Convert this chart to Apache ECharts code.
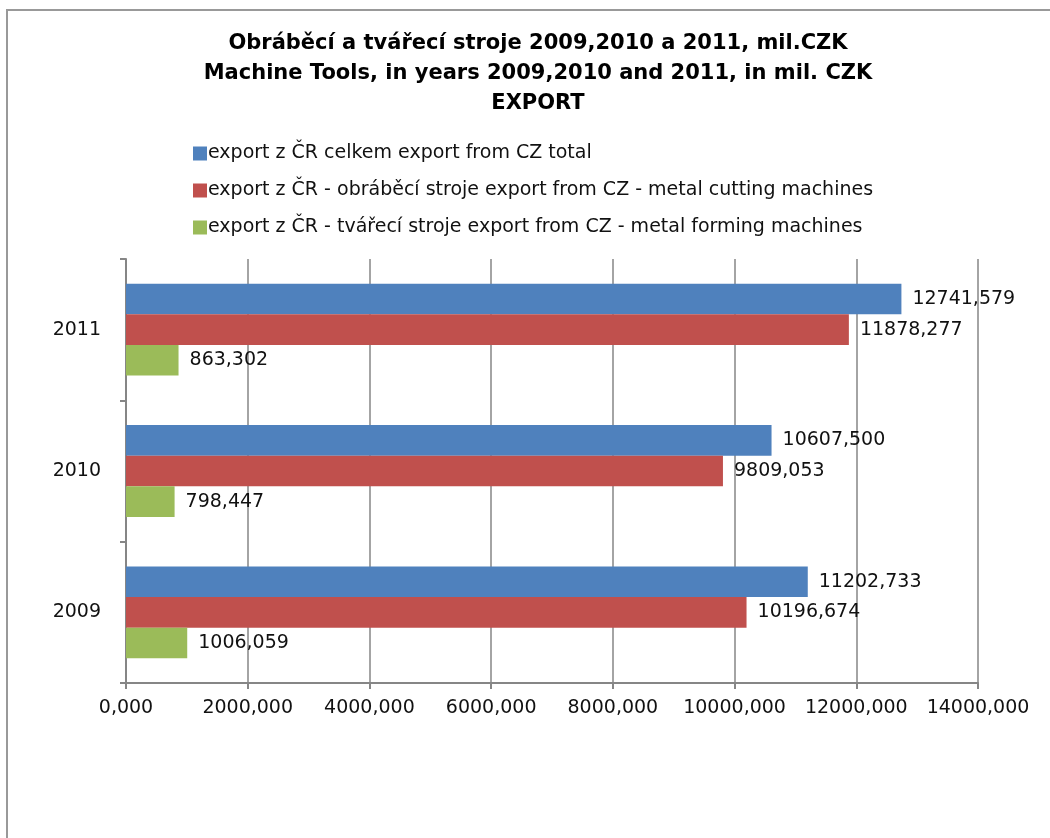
<!DOCTYPE html>
<html>
<head>
<meta charset="utf-8">
<script src="https://cdn.jsdelivr.net/npm/echarts@6/dist/echarts.min.js"></script>
<style>
html, body { margin: 0; padding: 0; background: #fff; }
#chart { width: 1050px; height: 838px; }
</style>
</head>
<body>
<div id="chart"></div>
<script>
// data
const years = ['2011', '2010', '2009']
const seriesNames = [
  'export z ČR celkem export from CZ total',
  'export z ČR - obráběcí stroje export from CZ - metal cutting machines',
  'export z ČR - tvářecí stroje export from CZ - metal forming machines'
]
const totalExport = [12741.579, 10607.500, 11202.733]
const cuttingExport = [11878.277, 9809.053, 10196.674]
const formingExport = [863.302, 798.447, 1006.059]
const colors = ['#4F81BD', '#C0504D', '#9BBB59']

const fmt = v => Number(v).toFixed(3).replace('.', ',')
const FONT = 'DejaVu Sans'
const FS = 19

const myChart = echarts.init(document.getElementById('chart'))
const bar = (name, data, color) => ({
  name: name,
  type: 'bar',
  data: data,
  barGap: '0%',
  barCategoryGap: '35%',
  itemStyle: { color: color },
  label: {
    show: true,
    position: 'right',
    distance: 11,
    color: '#111',
    fontFamily: FONT,
    fontSize: FS,
    formatter: p => fmt(p.value)
  }
})

myChart.setOption({
  animation: false,
  backgroundColor: '#fff',
  title: {
    text: 'Obráběcí a tvářecí stroje 2009,2010 a 2011, mil.CZK\nMachine Tools, in years 2009,2010 and 2011, in mil. CZK\nEXPORT',
    left: 533,
    textAlign: 'center',
    top: 24,
    textStyle: { fontFamily: FONT, fontWeight: 'bold', fontSize: 21, lineHeight: 30, color: '#000' }
  },
  legend: {
    orient: 'vertical',
    left: 188,
    top: 139,
    itemWidth: 14,
    itemHeight: 14,
    itemGap: 18,
    icon: 'rect',
    data: seriesNames,
    textStyle: { fontFamily: FONT, fontSize: FS, color: '#111', padding: [0, 0, 0, -4] }
  },
  graphic: [{
    type: 'rect',
    shape: { x: 7, y: 10, width: 1200, height: 1000 },
    style: { fill: 'none', stroke: '#999', lineWidth: 2 },
    silent: true
  }],
  grid: { left: 126, right: 72, top: 259, bottom: 155 },
  xAxis: {
    type: 'value',
    min: 0,
    max: 14000,
    interval: 2000,
    axisLine: { show: true, lineStyle: { color: '#868686', width: 2 } },
    axisTick: { show: true, length: 6, lineStyle: { color: '#868686', width: 2 } },
    splitLine: { show: true, lineStyle: { color: '#868686', width: 1.5 } },
    axisLabel: { formatter: fmt, fontFamily: FONT, fontSize: FS, color: '#111', margin: 16 }
  },
  yAxis: {
    type: 'category',
    inverse: true,
    data: years,
    axisLine: { show: true, lineStyle: { color: '#868686', width: 2 } },
    axisTick: { show: true, length: 6, lineStyle: { color: '#868686', width: 2 } },
    axisLabel: { fontFamily: FONT, fontSize: FS, color: '#111', margin: 25 }
  },
  series: [
    bar(seriesNames[0], totalExport, colors[0]),
    bar(seriesNames[1], cuttingExport, colors[1]),
    bar(seriesNames[2], formingExport, colors[2])
  ]
})
</script>
</body>
</html>
